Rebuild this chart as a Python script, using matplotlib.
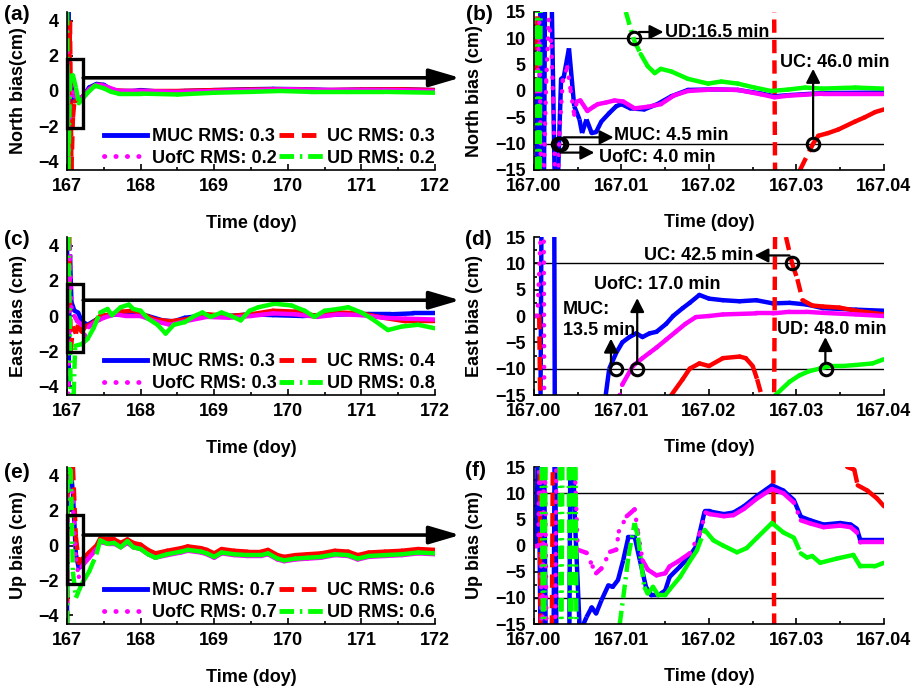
import numpy as np
import matplotlib
matplotlib.use('Agg')
import matplotlib.pyplot as plt
from matplotlib.patches import Rectangle
from matplotlib.lines import Line2D
from matplotlib.collections import LineCollection
from matplotlib.ticker import MultipleLocator, FormatStrFormatter

plt.rcParams['font.family'] = ['Liberation Sans', 'DejaVu Sans']
plt.rcParams['font.weight'] = 'bold'
plt.rcParams['axes.labelweight'] = 'bold'
plt.rcParams['font.size'] = 13

names = ['MUC', 'UC', 'UofC', 'UD']
rms_north = [0.3, 0.3, 0.2, 0.2]
rms_east = [0.3, 0.4, 0.3, 0.8]
rms_up = [0.7, 0.6, 0.7, 0.6]

# convergence times in minutes (MUC, UC, UofC, UD)
conv_north = [4.5, 46.0, 4.0, 16.5]
conv_east = [13.5, 42.5, 17.0, 48.0]

# ---- (a) North, whole 5 days ----
a_muc = [(167.0, 4.5), (167.01, -4.5), (167.02, 4.5), (167.03, -3.0), (167.06, 0.5), (167.1, -0.4),
         (167.15, -0.5), (167.22, -0.3), (167.3, 0.2), (167.4, 0.4), (167.5, 0.35), (167.6, 0.1),
         (167.7, 0.0), (167.9, 0.0), (168.0, 0.05), (168.3, -0.05), (168.6, 0.0), (169.0, 0.05),
         (169.5, 0.1), (169.8, 0.12), (170.2, 0.1), (170.6, 0.05), (171.0, 0.08), (171.5, 0.1), (172.0, 0.05)]
a_uc = [(167.0, 4.5), (167.02, -4.5), (167.04, 4.0), (167.06, -4.5), (167.08, -1.5), (167.1, -0.6),
        (167.15, -0.5), (167.25, -0.2), (167.35, 0.25), (167.45, 0.35), (167.6, 0.05), (167.8, 0.0),
        (168.0, 0.0), (168.5, 0.0), (169.0, 0.05), (169.5, 0.08), (170.0, 0.1), (170.5, 0.05),
        (171.0, 0.08), (171.5, 0.1), (172.0, 0.05)]
a_uofc = [(167.0, 4.0), (167.02, -4.5), (167.05, 0.5), (167.1, -0.3), (167.2, -0.4), (167.3, 0.1),
          (167.4, 0.35), (167.5, 0.3), (167.7, 0.0), (168.0, 0.0), (168.5, -0.05), (169.0, 0.0),
          (169.5, 0.05), (170.0, 0.1), (170.5, 0.05), (171.0, 0.05), (171.5, 0.05), (172.0, 0.0)]
a_ud = [(167.0, 4.5), (167.02, -4.5), (167.04, 0.85), (167.08, 0.9), (167.12, 0.2), (167.16, -0.7),
        (167.22, -0.4), (167.28, -0.1), (167.38, 0.3), (167.5, 0.15), (167.6, -0.05), (167.7, -0.15),
        (168.0, -0.15), (168.5, -0.2), (169.0, -0.1), (169.5, -0.05), (169.9, 0.0), (170.3, -0.05),
        (170.8, -0.05), (171.3, -0.05), (172.0, -0.1)]

# ---- (c) East, whole 5 days ----
c_muc = [(167.0, 4.0), (167.02, -4.0), (167.04, 3.5), (167.06, 0.8), (167.1, 0.3), (167.15, 0.2),
         (167.2, -0.3), (167.28, -0.5), (167.4, -0.2), (167.5, 0.0), (167.7, 0.1), (167.9, 0.15),
         (168.1, 0.0), (168.3, -0.25), (168.45, -0.3), (168.6, -0.1), (168.9, 0.05), (169.2, 0.0),
         (169.5, 0.1), (169.8, 0.05), (170.2, 0.0), (170.5, 0.05), (170.8, 0.1), (171.1, 0.1),
         (171.4, 0.1), (171.7, 0.15), (172.0, 0.15)]
c_uc = [(167.0, 4.5), (167.03, 4.5), (167.05, -2.0), (167.08, -0.6), (167.12, -1.0), (167.15, -0.5),
        (167.2, -0.9), (167.25, -0.6), (167.35, -0.4), (167.45, 0.0), (167.6, 0.1), (167.75, 0.25),
        (167.9, 0.3), (168.0, 0.15), (168.2, -0.2), (168.4, -0.3), (168.6, -0.2), (168.9, 0.1),
        (169.2, 0.0), (169.5, 0.1), (169.8, 0.3), (170.1, 0.25), (170.4, 0.0), (170.7, 0.2),
        (171.0, 0.15), (171.3, -0.1), (171.6, -0.3), (172.0, -0.3)]
c_uofc = [(167.0, 4.5), (167.02, -4.5), (167.04, 4.0), (167.06, 0.5), (167.1, 0.0), (167.14, -0.3),
          (167.2, -0.5), (167.25, -1.2), (167.3, -0.6), (167.4, -0.3), (167.5, -0.1), (167.65, 0.1),
          (167.8, 0.0), (168.0, 0.0), (168.2, -0.3), (168.4, -0.5), (168.6, -0.3), (168.9, -0.05),
          (169.2, -0.1), (169.5, 0.0), (169.8, 0.15), (170.1, 0.1), (170.4, -0.05), (170.7, 0.1),
          (171.0, 0.05), (171.3, -0.1), (171.6, -0.15), (172.0, -0.2)]
c_ud = [(167.02, 4.5), (167.05, -4.5), (167.09, -4.5), (167.11, -1.7), (167.2, -1.6), (167.28, -1.3),
        (167.36, -0.7), (167.45, 0.2), (167.55, 0.4), (167.61, 0.05), (167.73, 0.5), (167.84, 0.65),
        (167.9, 0.4), (168.0, 0.3), (168.1, -0.15), (168.23, -0.5), (168.34, -1.0), (168.45, -0.5),
        (168.6, -0.35), (168.73, 0.0), (168.84, 0.2), (168.95, -0.05), (169.1, 0.2), (169.23, 0.0),
        (169.36, -0.25), (169.48, 0.3), (169.6, 0.5), (169.82, 0.7), (170.05, 0.6), (170.23, 0.3),
        (170.36, -0.05), (170.5, 0.3), (170.68, 0.4), (170.82, 0.5), (171.0, 0.2), (171.14, -0.15),
        (171.36, -0.8), (171.55, -0.6), (171.77, -0.5), (172.0, -0.7)]

# ---- (e) Up, whole 5 days ----
e_x = [167.0, 167.005, 167.05, 167.08, 167.12, 167.16, 167.2, 167.3, 167.4, 167.45, 167.55, 167.64,
       167.73, 167.82, 167.9, 168.0, 168.1, 168.2, 168.36, 168.55, 168.64, 168.82, 168.9, 169.0,
       169.1, 169.27, 169.45, 169.64, 169.73, 169.86, 169.95, 170.1, 170.27, 170.45, 170.64, 170.82,
       170.95, 171.1, 171.32, 171.55, 171.77, 172.0]
e_muc = [-4.5, 4.5, 4.4, 3.0, -0.5, -1.3, -1.0, -0.6, -0.1, 0.3, 0.15, 0.15, -0.05, 0.2, -0.05, -0.15,
         -0.45, -0.65, -0.5, -0.35, -0.25, -0.35, -0.45, -0.65, -0.4, -0.5, -0.55, -0.55, -0.45, -0.75,
         -0.85, -0.75, -0.7, -0.65, -0.5, -0.55, -0.75, -0.6, -0.55, -0.5, -0.4, -0.45]
e_uc = [-4.5, 4.5, 4.5, 4.5, 0.5, -1.0, -0.8, -0.4, 0.0, 0.4, 0.35, 0.35, 0.15, 0.35, 0.15, 0.05,
        -0.25, -0.45, -0.3, -0.15, -0.05, -0.15, -0.25, -0.45, -0.2, -0.3, -0.35, -0.35, -0.25, -0.55,
        -0.65, -0.55, -0.5, -0.45, -0.3, -0.35, -0.55, -0.4, -0.35, -0.3, -0.2, -0.25]
e_uofc = [-4.5, 4.5, 4.3, 2.5, -0.8, -1.8, -1.2, -0.7, -0.2, 0.2, 0.1, 0.1, -0.1, 0.15, -0.1, -0.2,
          -0.5, -0.7, -0.55, -0.4, -0.3, -0.4, -0.5, -0.7, -0.45, -0.55, -0.6, -0.6, -0.5, -0.8,
          -0.9, -0.8, -0.75, -0.7, -0.55, -0.6, -0.8, -0.65, -0.6, -0.55, -0.45, -0.5]
e_ud = [-4.5, 4.5, 4.3, -1.5, -3.0, -2.6, -2.2, -1.5, -0.5, 0.3, 0.1, 0.15, -0.1, 0.25, -0.1, -0.2,
        -0.5, -0.7, -0.5, -0.35, -0.25, -0.35, -0.45, -0.65, -0.4, -0.5, -0.55, -0.55, -0.45, -0.75,
        -0.85, -0.75, -0.7, -0.65, -0.5, -0.55, -0.75, -0.6, -0.55, -0.5, -0.4, -0.45]

# ---- (b) North, first hour ----
b_muc = [(167.0, 0.0), (167.0003, 0.0), (167.0005, -30), (167.0008, 30), (167.0011, -30), (167.0013, 30),
         (167.0019, 30), (167.0025, -30), (167.0029, -8.0), (167.0031, 2.3), (167.0034, 2.6),
         (167.004, 8.1), (167.0046, -2.9), (167.0052, -5.4), (167.0055, -8.0), (167.006, -5.4),
         (167.0066, -8.0), (167.0071, -7.8), (167.0077, -5.8), (167.0086, -4.2), (167.0094, -2.9),
         (167.01, -2.5), (167.011, -3.3), (167.0126, -3.5), (167.0141, -2.5), (167.0157, -1.0),
         (167.0176, 0.2), (167.0206, 0.3), (167.0233, 0.2), (167.026, -0.5), (167.0275, -1.0),
         (167.029, -0.8), (167.033, -0.4), (167.04, -0.3)]
b_uc = [(167.0, 0.0), (167.0003, 0.0), (167.0005, 30), (167.0274, 30), (167.0276, -30), (167.0302, -20),
        (167.0304, -15), (167.0319, -10.0), (167.0325, -8.5), (167.0336, -8.0), (167.0348, -7.3),
        (167.0367, -5.8), (167.0378, -5.0), (167.039, -4.0), (167.04, -3.5)]
b_uofc = [(167.0, 0.0), (167.0004, 0.0), (167.0006, 13.0), (167.0007, 0.0), (167.0009, -30),
          (167.0014, 2.0), (167.0017, 13.5), (167.002, 8.5), (167.0022, -2.0), (167.0026, -30),
          (167.0029, -8.0), (167.0033, 2.0), (167.0038, 4.5), (167.0042, 0.0), (167.0046, -4.5),
          (167.0049, -2.0), (167.0053, -1.8), (167.0061, -3.8), (167.0068, -3.0), (167.0073, -2.5),
          (167.0082, -2.2), (167.0092, -1.8), (167.0102, -2.0), (167.0115, -3.3), (167.013, -3.0),
          (167.0145, -2.5), (167.016, -0.85), (167.0176, 0.0), (167.0206, 0.3), (167.0233, 0.2),
          (167.026, -0.65), (167.0275, -1.2), (167.029, -0.9), (167.033, -0.5), (167.04, -0.5)]
b_ud = [(167.0002, -30), (167.0004, 30), (167.0006, -30), (167.0008, 30), (167.01, 25), (167.0105, 15),
        (167.0114, 9.8), (167.0122, 7.0), (167.013, 4.7), (167.0138, 3.4), (167.0145, 4.2),
        (167.0157, 3.7), (167.0176, 2.3), (167.0199, 1.4), (167.0214, 1.8), (167.0233, 1.4),
        (167.0252, 0.65), (167.0271, 0.0), (167.029, 0.26), (167.031, 0.65), (167.0329, 0.45),
        (167.0367, 0.65), (167.04, 0.45)]

# ---- (d) East, first hour ----
d_muc = [(167.0007, -30), (167.0009, 30), (167.0023, 30), (167.0024, -30), (167.0078, -30),
         (167.0082, -15), (167.0086, -10), (167.0094, -7), (167.0101, -5), (167.0109, -4),
         (167.0117, -3.3), (167.0124, -4), (167.0132, -3.3), (167.014, -3), (167.0151, -1.5),
         (167.0159, 0), (167.017, 1.5), (167.0178, 2.5), (167.0189, 4), (167.02, 3.3), (167.0216, 3),
         (167.0235, 2.8), (167.0254, 3), (167.0273, 2.4), (167.0292, 2.5), (167.0311, 2.2),
         (167.033, 1.5), (167.0368, 1.2), (167.04, 1.0)]
d_uc = [(167.0, 0.0), (167.0006, 0.0), (167.0008, -30), (167.0155, -30), (167.0157, -15), (167.017, -12),
        (167.0178, -10), (167.0189, -9), (167.02, -9.5), (167.0216, -8), (167.0235, -7.7),
        (167.0242, -8), (167.025, -9.5), (167.0255, -12), (167.026, -15), (167.0262, -30),
        (167.0274, -30), (167.0276, 30), (167.0287, 30), (167.0288, 15), (167.0295, 10),
        (167.0301, 7), (167.0307, 3), (167.0318, 2), (167.033, 1.8), (167.0349, 1.6),
        (167.0368, 1.0), (167.04, 0.3)]
d_uofc = [(167.0, 0.0), (167.0004, 0.0), (167.0011, 30), (167.0012, -30), (167.0096, -30),
          (167.0098, -15), (167.0101, -13), (167.0113, -9.5), (167.0124, -8), (167.0132, -7),
          (167.014, -6), (167.0151, -4.5), (167.0162, -3), (167.0173, -1.5), (167.0185, -0.2),
          (167.02, 0), (167.0216, 0.3), (167.0254, 0.5), (167.0273, 0.5), (167.0292, 0.8),
          (167.0311, 0.8), (167.033, 0.6), (167.0368, 0.3), (167.04, 0.0)]
d_ud = [(167.0275, -30), (167.0276, -15), (167.0292, -12.5), (167.0303, -11.3), (167.0314, -10.5),
        (167.0326, -10), (167.0338, -9.5), (167.0352, -9.5), (167.0368, -9.3), (167.0387, -9.0),
        (167.04, -8.2)]

# ---- (f) Up, first hour ----
f_muc = [(167.0, 0.0), (167.0003, 0.0), (167.0005, 30), (167.0008, -30), (167.0011, 30),
         (167.0014, -30), (167.0022, -30), (167.0024, 30), (167.0026, -30), (167.004, -30),
         (167.0042, 30), (167.0044, 30), (167.0046, 8), (167.0052, -15), (167.0054, -16),
         (167.006, -13.7), (167.0066, -11.8), (167.0071, -13), (167.0077, -10.5), (167.0085, -7.6),
         (167.009, -7.9), (167.0096, -6.6), (167.0102, -2.8), (167.0108, 1.7), (167.0115, 1.7),
         (167.0121, -2.8), (167.0128, -7.9), (167.0134, -9.5), (167.0142, -9.5), (167.015, -8.6),
         (167.0155, -6.0), (167.0167, -4.0), (167.0178, -2.0), (167.0186, 0.0), (167.0195, 6.5),
         (167.0201, 6.5), (167.0217, 6.0), (167.0228, 6.3), (167.024, 7.5), (167.0255, 9.5),
         (167.0272, 11.5), (167.0285, 10.5), (167.0297, 8.7), (167.0305, 5.5), (167.0316, 4.8),
         (167.0331, 4.0), (167.035, 4.3), (167.0362, 4.0), (167.0369, 3.2), (167.0373, 1.0),
         (167.04, 1.0)]
f_uc = [(167.0006, 30), (167.0008, -30), (167.002, -30), (167.0022, 30), (167.0273, 30),
        (167.0275, -30), (np.nan, np.nan), (167.0356, 30), (167.0358, 15), (167.0366, 14.5),
        (167.037, 11.5), (167.0381, 10.5), (167.0392, 9.0), (167.04, 7.5)]
f_uofc = [(167.0, 0.0), (167.0005, 0.0), (167.0007, 30), (167.0009, -30), (167.0012, 30),
          (167.0015, -30), (167.0024, -30), (167.0026, 30), (167.0043, 30), (167.0048, 9),
          (167.005, -0.8), (167.006, -1.4), (167.0067, -4.0), (167.0071, -5.3), (167.0077, -4.4),
          (167.0087, -1.2), (167.0094, -0.8), (167.0097, 2.7), (167.0106, 5.6), (167.0115, 6.9),
          (167.0119, 2.4), (167.0124, -2.8), (167.013, -4.6), (167.014, -5.7), (167.015, -5.3),
          (167.0155, -4.0), (167.0165, -3.0), (167.0178, -1.5), (167.019, 2.5), (167.0196, 6.3),
          (167.0201, 6.0), (167.0217, 5.6), (167.0228, 5.8), (167.024, 7.0), (167.0255, 9.0),
          (167.0272, 10.8), (167.0285, 10.0), (167.0297, 8.2), (167.0305, 4.8), (167.0316, 4.2),
          (167.0331, 3.5), (167.035, 3.8), (167.0362, 3.5), (167.0369, 2.5), (167.0373, 0.6),
          (167.04, 0.6)]
f_ud = [(167.0008, 30), (167.0011, -30), (167.0014, 30), (167.0029, 30), (167.0031, -30),
        (167.0033, 30), (167.0039, 30), (167.0042, -30), (167.0045, 30), (167.0047, 30),
        (167.0049, -30), (167.0096, -30), (167.0098, -15), (167.0102, -10), (167.0108, -2),
        (167.0115, 4.3), (167.0119, 1.5), (167.0126, -7.9), (167.013, -9.2), (167.0136, -7.9),
        (167.0142, -9.5), (167.015, -9.5), (167.0155, -8.4), (167.0167, -6.0), (167.0178, -3.0),
        (167.0186, -1.0), (167.0195, 3.0), (167.0205, 1.0), (167.0216, 0.0), (167.0232, -1.3),
        (167.0243, -0.5), (167.0255, 1.5), (167.0272, 4.3), (167.0285, 2.5), (167.0297, 1.5),
        (167.0305, -1.5), (167.0312, -2.3), (167.0318, -2.0), (167.0327, -3.3), (167.0346, -2.5),
        (167.0365, -1.8), (167.0373, -4.0), (167.0389, -4.0), (167.04, -3.3)]


STY = {
    'MUC': dict(color='#0000ff', dashes=None, cap='butt'),
    'UC': dict(color='#ff0000', dashes=(3.0, 1.6), cap='butt'),
    'UofC': dict(color='#ff00ff', dashes=(0.05, 2.3), cap='round'),
    'UD': dict(color='#00ff00', dashes=(3.0, 1.2, 0.5, 1.2), cap='butt'),
}
LW = 3.2


def draw(ax, x, y, name):
    # steep segments get the dashed style (pattern restarts per segment), gentle ones look solid
    x = np.asarray(x, float)
    y = np.asarray(y, float)
    st = STY[name]
    bb = ax.get_window_extent()
    x0, x1 = ax.get_xlim()
    y0, y1 = ax.get_ylim()
    sx = bb.width / (x1 - x0)
    sy = bb.height / (y1 - y0)
    spikes, smooth = [], []
    for i in range(len(x) - 1):
        if np.isnan(x[i]) or np.isnan(x[i + 1]):
            continue
        seg = [(x[i], y[i]), (x[i + 1], y[i + 1])]
        dxp = abs(x[i + 1] - x[i]) * sx
        dyp = abs(y[i + 1] - y[i]) * sy
        if dyp > 1.8 * dxp and dyp > 6:
            spikes.append(seg)
        else:
            smooth.append(seg)
    if smooth:
        ax.add_collection(LineCollection(smooth, colors=st['color'], linewidths=LW,
                                         capstyle='round', joinstyle='round'))
    if spikes:
        ls = 'solid' if st['dashes'] is None else (0, st['dashes'])
        ax.add_collection(LineCollection(spikes, colors=st['color'], linewidths=LW,
                                         linestyles=[ls], capstyle=st['cap']))


def handles():
    hs = []
    for n in names:
        st = STY[n]
        kw = dict(color=st['color'], lw=LW + 0.3)
        if st['dashes'] is not None:
            kw['dashes'] = st['dashes']
            kw['dash_capstyle'] = st['cap']
        hs.append(Line2D([], [], **kw))
    return hs


def style_axes(ax):
    for s in ['top', 'right']:
        ax.spines[s].set_visible(False)
    for s in ['left', 'bottom']:
        ax.spines[s].set_linewidth(1.2)
    ax.tick_params(which='both', direction='in', width=1.2, labelsize=13, pad=6)
    ax.tick_params(which='major', length=4)
    ax.tick_params(which='minor', length=2.5)


def left_panel(ax, series, rms, ylabel, box, arrow_y):
    ax.set_xlim(167, 172)
    ax.set_ylim(-4.5, 4.5)
    for n, (xs, ys) in zip(names, series):
        draw(ax, xs, ys, n)
    ax.set_yticks([-4, -2, 0, 2, 4])
    ax.xaxis.set_minor_locator(MultipleLocator(0.5))
    ax.yaxis.set_minor_locator(MultipleLocator(1))
    style_axes(ax)
    ax.add_patch(Rectangle((167.0, box[0]), 0.22, box[1] - box[0], fill=False,
                           lw=2.4, ec='k', zorder=6, clip_on=False))
    ax.annotate('', xy=(1.068, arrow_y), xycoords=('axes fraction', 'data'),
                xytext=(167.22, arrow_y), textcoords='data', annotation_clip=False,
                arrowprops=dict(arrowstyle='-|>,head_length=0.75,head_width=0.22',
                                lw=2.6, color='k', mutation_scale=25, shrinkA=0, shrinkB=0),
                zorder=6)
    h = handles()
    labels = [f'{n} RMS: {r}' for n, r in zip(names, rms)]
    order = [0, 2, 1, 3]
    ax.legend([h[i] for i in order], [labels[i] for i in order], ncol=2, frameon=False,
              loc='lower right', bbox_to_anchor=(1.0, 0.02), borderaxespad=0, borderpad=0,
              handlelength=2.4, handletextpad=0.25, columnspacing=0.15, labelspacing=0.25,
              fontsize=13)
    ax.set_xlabel('Time (doy)', fontsize=13)
    ax.xaxis.set_label_coords(0.5, -0.285)
    ax.set_ylabel(ylabel, fontsize=13)
    ax.yaxis.set_label_coords(-0.109, 0.5)


def right_panel(ax, series, ylabel):
    ax.set_xlim(167.0, 167.04)
    ax.set_ylim(-15, 15)
    for n, pts in zip(names, series):
        p = np.asarray(pts, float)
        draw(ax, p[:, 0], p[:, 1], n)
    ax.axhline(10, color='k', lw=1.0, zorder=1)
    ax.axhline(-10, color='k', lw=1.0, zorder=1)
    ax.set_xticks([167.0, 167.01, 167.02, 167.03, 167.04])
    ax.set_yticks([-15, -10, -5, 0, 5, 10, 15])
    ax.xaxis.set_major_formatter(FormatStrFormatter('%.2f'))
    ax.xaxis.set_minor_locator(MultipleLocator(0.005))
    ax.yaxis.set_minor_locator(MultipleLocator(2.5))
    style_axes(ax)
    ax.set_xlabel('Time (doy)', fontsize=13)
    ax.xaxis.set_label_coords(0.5, -0.28)
    ax.set_ylabel(ylabel, fontsize=13)
    ax.yaxis.set_label_coords(-0.146, 0.5)


def circle(ax, t_min, level):
    ax.plot([167 + t_min / 1440.0], [level], 'o', ms=9, mfc='none', mec='k', mew=2.2, zorder=7,
            clip_on=False)


def arrow(ax, start, end):
    ax.annotate('', xy=end, xytext=start, annotation_clip=False,
                arrowprops=dict(arrowstyle='-|>,head_length=0.55,head_width=0.28', lw=1.6,
                                color='k', mutation_scale=15, shrinkA=0, shrinkB=0), zorder=7)


fig = plt.figure(figsize=(9.17, 6.89), dpi=100)
LX, LW_ = 0.0731, 0.4013
RX, RW = 0.5823, 0.3817
rows = [(0.7533, 0.2293), (0.4267, 0.2293), (0.0943, 0.2279)]

ax_a = fig.add_axes([LX, rows[0][0], LW_, rows[0][1]])
ax_b = fig.add_axes([RX, rows[0][0], RW, rows[0][1]])
ax_c = fig.add_axes([LX, rows[1][0], LW_, rows[1][1]])
ax_d = fig.add_axes([RX, rows[1][0], RW, rows[1][1]])
ax_e = fig.add_axes([LX, rows[2][0], LW_, rows[2][1]])
ax_f = fig.add_axes([RX, rows[2][0], RW, rows[2][1]])


def xy(pts):
    p = np.asarray(pts, float)
    return p[:, 0], p[:, 1]


left_panel(ax_a, [xy(a_muc), xy(a_uc), xy(a_uofc), xy(a_ud)], rms_north,
           'North bias(cm)', (-2.1, 1.8), 0.75)
left_panel(ax_c, [xy(c_muc), xy(c_uc), xy(c_uofc), xy(c_ud)], rms_east,
           'East bias (cm)', (-2.05, 1.8), 0.9)
left_panel(ax_e, [(e_x, e_muc), (e_x, e_uc), (e_x, e_uofc), (e_x, e_ud)], rms_up,
           'Up bias (cm)', (-2.2, 1.75), 0.6)

right_panel(ax_b, [b_muc, b_uc, b_uofc, b_ud], 'North bias (cm)')
right_panel(ax_d, [d_muc, d_uc, d_uofc, d_ud], 'East bias (cm)')
right_panel(ax_f, [f_muc, f_uc, f_uofc, f_ud], 'Up bias (cm)')

# (b) convergence annotations
muc_t, uc_t, uofc_t, ud_t = conv_north
circle(ax_b, ud_t, 10)
arrow(ax_b, (167.0120, 11.2), (167.0148, 11.2))
ax_b.text(167.0150, 11.2, f'UD:{ud_t} min', va='center', ha='left', fontsize=13)
circle(ax_b, muc_t, -10)
circle(ax_b, uofc_t, -10)
arrow(ax_b, (167.0034, -8.8), (167.0091, -8.8))
ax_b.text(167.0092, -8.4, f'MUC: {muc_t} min', va='center', ha='left', fontsize=13)
arrow(ax_b, (167.0030, -11.7), (167.0069, -11.7))
ax_b.text(167.0074, -12.6, f'UofC: {uofc_t} min', va='center', ha='left', fontsize=13)
circle(ax_b, uc_t, -10)
arrow(ax_b, (167.0319, -8.6), (167.0319, 4.2))
ax_b.text(167.0281, 5.4, f'UC: {uc_t} min', va='center', ha='left', fontsize=13)

# (d) convergence annotations
muc_t, uc_t, uofc_t, ud_t = conv_east
circle(ax_d, uc_t, 10)
arrow(ax_d, (167.0292, 11.5), (167.0252, 11.5))
ax_d.text(167.0251, 11.5, f'UC: {uc_t} min', va='center', ha='right', fontsize=13)
circle(ax_d, muc_t, -10)
arrow(ax_d, (167.0088, -9.0), (167.0088, -4.3))
ax_d.text(167.0033, -0.7, f'MUC:\n{muc_t} min', va='center', ha='left', fontsize=13,
          linespacing=1.3)
circle(ax_d, uofc_t, -10)
arrow(ax_d, (167.0118, -8.9), (167.0118, 3.4))
ax_d.text(167.0069, 5.9, f'UofC: {uofc_t} min', va='center', ha='left', fontsize=13)
circle(ax_d, ud_t, -10)
arrow(ax_d, (167.0333, -8.9), (167.0333, -4.0))
ax_d.text(167.0278, -2.6, f'UD: {ud_t} min', va='center', ha='left', fontsize=13)

# panel letters
for lbl, px, py in [('(a)', 4, 15), ('(b)', 466, 15), ('(c)', 4, 240),
                    ('(d)', 465, 240), ('(e)', 4, 473), ('(f)', 465, 470)]:
    fig.text(px / 917, 1 - py / 689, lbl, fontsize=15, fontweight='bold', va='center', ha='left')

fig.savefig('out.png', dpi=100)
